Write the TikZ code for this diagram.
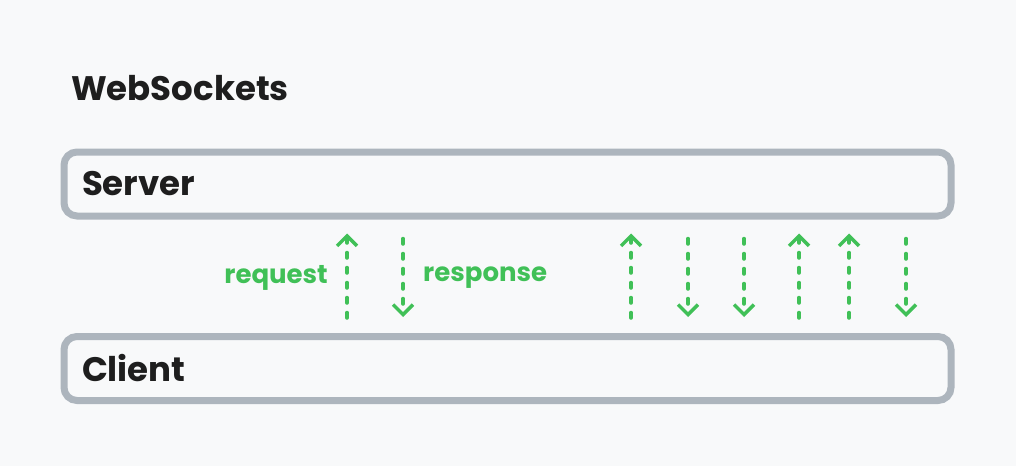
\documentclass[tikz,border=0pt]{standalone}
\usepackage{fontspec}
\setmainfont{Poppins}
\usetikzlibrary{positioning}
\usetikzlibrary{arrows.meta}
\definecolor{bgcol}{HTML}{F8F9FA}
\definecolor{boxgray}{HTML}{ADB5BD}
\definecolor{msggreen}{HTML}{40C057}
\definecolor{inkcol}{HTML}{1E1E1E}
\tikzset{
  boxnode/.style={rectangle,draw=boxgray,fill=bgcol,line width=7pt,
                  rounded corners=13pt,minimum width=887pt,minimum height=64pt,
                  inner xsep=18pt,text width=851pt,align=left,
                  text=inkcol,font=\bfseries\fontsize{34}{37}\selectfont},
  title/.style={text=inkcol,font=\bfseries\fontsize{34}{37}\selectfont,inner sep=0pt},
  msgflow/.style={draw=msggreen,line width=3.5pt,line cap=round,line join=round,
                  dash pattern=on 5.5pt off 9.5pt,
                  -{Straight Barb[length=10pt,width=20pt]}},
  msgup/.style={msgflow,shorten <=15pt,shorten >=14pt},
  msgdown/.style={msgflow,shorten <=19pt,shorten >=16pt},
  msglabel/.style={text=msggreen,font=\bfseries\fontsize{26}{29}\selectfont,inner sep=0pt},
}
\begin{document}
\begin{tikzpicture}[x=1pt,y=-1pt]
  \useasboundingbox[fill=bgcol] (0,0) rectangle (1016,466);

  \node[title,anchor=base west] (head) at (71,100) {WebSockets};

  \node[boxnode] (server) at (507.5,184) {Server};
  \node[boxnode] (client) at (507.5,368.5) {Client};

  % request / response pair
  \draw[msgup]   (client.north -| 347,0) -- (server.south -| 347,0);
  \draw[msgdown] (server.south -| 403,0) -- (client.north -| 403,0);
  \node[msglabel,anchor=east] (req) at (328,278) {request};
  \node[msglabel,anchor=west] (resp) at (423,278) {response};

  % open socket, messages both ways
  \foreach \x in {631,799,849}
    \draw[msgup] (client.north -| \x,0) -- (server.south -| \x,0);
  \foreach \x in {688,744,906}
    \draw[msgdown] (server.south -| \x,0) -- (client.north -| \x,0);
\end{tikzpicture}
\end{document}
